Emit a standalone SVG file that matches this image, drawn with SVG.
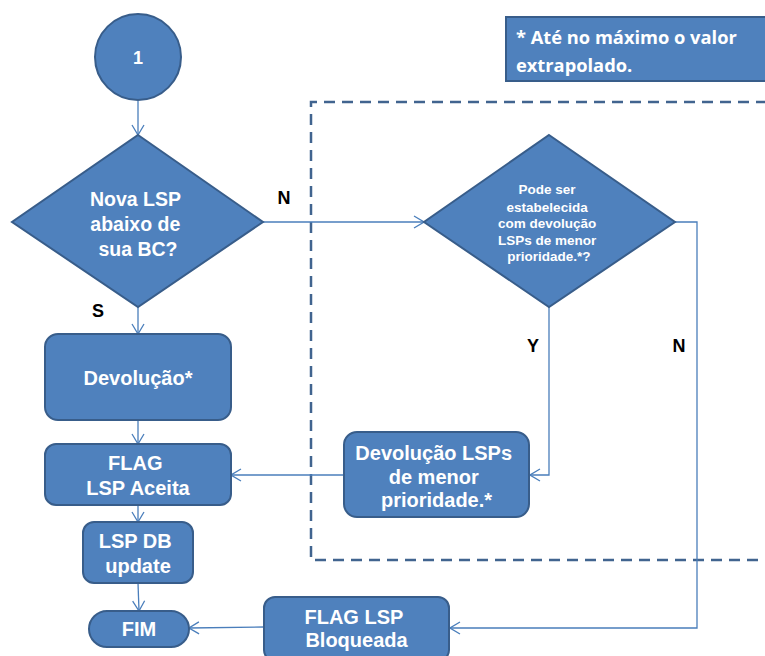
<svg xmlns="http://www.w3.org/2000/svg" width="765" height="656" viewBox="0 0 765 656">
  <style>
    .shape { fill: #4f81bd; stroke: #385d8a; stroke-width: 2; }
    .lbl { font-family: "Liberation Sans", Arial, sans-serif; font-weight: bold; fill: #ffffff; text-anchor: middle; }
    .tag { font-family: "Liberation Sans", Arial, sans-serif; font-weight: bold; fill: #000000; font-size: 18px; text-anchor: middle; }
    .conn { fill: none; stroke: #4a7ebb; stroke-width: 1.3; }
    .note { font-family: "Open Sans", Lato, sans-serif; font-weight: bold; fill: #ffffff; font-size: 18.3px; }
  </style>
  <defs>
    <marker id="arrow" markerUnits="userSpaceOnUse" markerWidth="12" markerHeight="14" refX="11" refY="7" orient="auto">
      <path d="M1,1 L11,7 L1,13" fill="none" stroke="#4a7ebb" stroke-width="1.3"/>
    </marker>
  </defs>

  <rect width="765" height="656" fill="#ffffff"/>

  <!-- dashed frame around the priority-return branch -->
  <path d="M767 102 H311 V560 H767" fill="none" stroke="#41648f" stroke-width="2.5" stroke-dasharray="11 7"/>

  <!-- connectors -->
  <g id="connectors">
    <path class="conn" d="M138 101 V135" marker-end="url(#arrow)"/>
    <path class="conn" d="M138 307 V334" marker-end="url(#arrow)"/>
    <path class="conn" d="M138 420 V444" marker-end="url(#arrow)"/>
    <path class="conn" d="M138 505 V522" marker-end="url(#arrow)"/>
    <path class="conn" d="M138 583 L139 611" marker-end="url(#arrow)"/>
    <path class="conn" d="M263 222 H424" marker-end="url(#arrow)"/>
    <path class="conn" d="M549 307 V475 H530" marker-end="url(#arrow)"/>
    <path class="conn" d="M344 475 H231" marker-end="url(#arrow)"/>
    <path class="conn" d="M675 222 H697 V628 H450" marker-end="url(#arrow)"/>
    <path class="conn" d="M264 627 L189 628" marker-end="url(#arrow)"/>
  </g>

  <!-- branch labels -->
  <text class="tag" x="284" y="204">N</text>
  <text class="tag" x="98" y="317">S</text>
  <text class="tag" x="533" y="352">Y</text>
  <text class="tag" x="679" y="352">N</text>

  <g id="start">
    <circle class="shape" cx="138" cy="57" r="43"/>
    <text class="lbl" x="138" y="64" font-size="18">1</text>
  </g>

  <g id="decision-bc">
    <polygon class="shape" points="138,135 263,222 138,307 12,222"/>
    <text class="lbl" font-size="19.5">
      <tspan x="138" y="206">Nova LSP</tspan>
      <tspan x="138" y="231">abaixo de</tspan>
      <tspan x="138" y="256">sua BC?</tspan>
    </text>
  </g>

  <g id="decision-return">
    <polygon class="shape" points="549,135 675,222 549,307 424,222"/>
    <text class="lbl" font-size="13.5">
      <tspan x="549" y="194">Pode ser</tspan>
      <tspan x="549" y="211.5">estabelecida</tspan>
      <tspan x="549" y="228">com devolução</tspan>
      <tspan x="549" y="244.5">LSPs de menor</tspan>
      <tspan x="549" y="261">prioridade.*?</tspan>
    </text>
  </g>

  <g id="devolucao">
    <rect class="shape" x="45" y="334" width="186" height="86" rx="13"/>
    <text class="lbl" x="138" y="385" font-size="20">Devolução*</text>
  </g>

  <g id="flag-aceita">
    <rect class="shape" x="45" y="444" width="186" height="61" rx="11"/>
    <text class="lbl" font-size="20">
      <tspan x="138" y="470">FLAG</tspan>
      <tspan x="138" y="495">LSP Aceita</tspan>
    </text>
  </g>

  <g id="lsp-db">
    <rect class="shape" x="83" y="522" width="110" height="61" rx="11"/>
    <text class="lbl" font-size="20">
      <tspan x="138" y="548">LSP DB</tspan>
      <tspan x="138" y="573">update</tspan>
    </text>
  </g>

  <g id="fim">
    <rect class="shape" x="89" y="611" width="100" height="36" rx="18"/>
    <text class="lbl" x="139" y="636" font-size="20">FIM</text>
  </g>

  <g id="devolucao-lsps">
    <rect class="shape" x="344" y="432" width="185" height="85" rx="13"/>
    <text class="lbl" font-size="20">
      <tspan x="436.5" y="460">Devolução LSPs</tspan>
      <tspan x="436.5" y="484">de menor</tspan>
      <tspan x="436.5" y="507">prioridade.*</tspan>
    </text>
  </g>

  <g id="flag-bloqueada">
    <rect class="shape" x="264" y="597" width="185" height="64" rx="11"/>
    <text class="lbl" font-size="20">
      <tspan x="356.5" y="624">FLAG LSP</tspan>
      <tspan x="356.5" y="647">Bloqueada</tspan>
    </text>
  </g>

  <g id="note">
    <rect x="506" y="17" width="270" height="64" fill="#4f81bd" stroke="#385d8a" stroke-width="2"/>
    <text class="note">
      <tspan x="516" y="44">* Até no máximo o valor</tspan>
      <tspan x="516" y="72">extrapolado.</tspan>
    </text>
  </g>
</svg>
